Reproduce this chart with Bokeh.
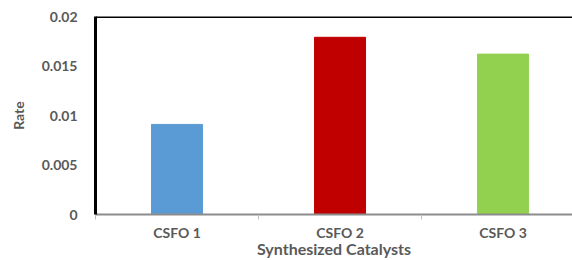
from bokeh.plotting import figure
from bokeh.models import FixedTicker, Range1d, Span, ColumnDataSource
from bokeh.embed import file_html
from bokeh.resources import INLINE

categories = ["CSFO 1", "CSFO 2", "CSFO 3"]
rates = [0.0091, 0.0179, 0.0162]
colors = ["#5b9bd5", "#c00000", "#92d050"]
y_ticks = [0, 0.005, 0.01, 0.015, 0.02]
y_tick_labels = ["0", "0.005", "0.01", "0.015", "0.02"]
x_title = "Synthesized Catalysts"
y_title = "Rate"

xs = list(range(len(categories)))
src = ColumnDataSource(dict(x=xs, top=rates, color=colors))

p = figure(width=572, height=260, output_backend="svg", toolbar_location=None,
           x_range=Range1d(-0.5, 2.426), y_range=Range1d(0, 0.02),
           min_border_left=95, min_border_top=16, min_border_bottom=46, min_border_right=0)
p.vbar(x="x", top="top", width=0.313, color="color", source=src)

p.outline_line_color = None
p.grid.grid_line_color = None
p.background_fill_color = "white"

p.add_layout(Span(location=0.02, dimension="width", line_color="black", line_width=3))

txt = "#595959"
font = "Lato"

xa = p.xaxis[0]
xa.ticker = FixedTicker(ticks=xs, minor_ticks=[-0.5, 0.5, 1.5, 2.5])
xa.major_label_overrides = {i: c for i, c in zip(xs, categories)}
xa.axis_line_color = "#8c8c8c"
xa.axis_line_width = 2
xa.major_tick_line_color = None
xa.major_tick_out = 0
xa.major_tick_in = 0
xa.minor_tick_line_color = "#bfbfbf"
xa.minor_tick_out = 5
xa.minor_tick_in = 0
xa.major_label_text_font = font
xa.major_label_text_font_style = "bold"
xa.major_label_text_font_size = "14px"
xa.major_label_text_color = txt
xa.major_label_standoff = 4
xa.axis_label = x_title
xa.axis_label_text_font = font
xa.axis_label_text_font_style = "bold"
xa.axis_label_text_font_size = "16px"
xa.axis_label_text_color = txt
xa.axis_label_standoff = -5

ya = p.yaxis[0]
ya.ticker = FixedTicker(ticks=y_ticks)
ya.major_label_overrides = {t: l for t, l in zip(y_ticks, y_tick_labels)}
ya.axis_line_color = "black"
ya.axis_line_width = 3
ya.major_tick_line_color = None
ya.major_tick_out = 0
ya.major_tick_in = 0
ya.minor_tick_line_color = None
ya.major_label_text_font = font
ya.major_label_text_font_style = "bold"
ya.major_label_text_font_size = "14px"
ya.major_label_text_color = txt
ya.major_label_standoff = 18
ya.axis_label = y_title
ya.axis_label_text_font = font
ya.axis_label_text_font_style = "bold"
ya.axis_label_text_font_size = "14px"
ya.axis_label_text_color = txt
ya.axis_label_standoff = 12

open("out.html", "w").write(file_html(p, INLINE))
